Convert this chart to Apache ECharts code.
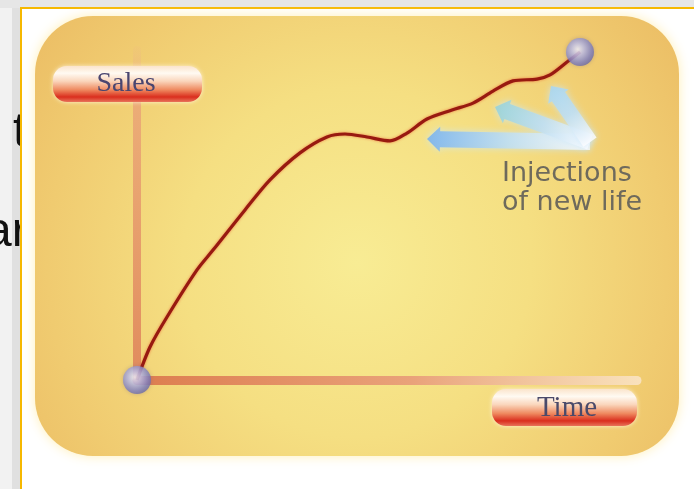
<!DOCTYPE html>
<html>
<head>
<meta charset="utf-8">
<script src="https://cdn.jsdelivr.net/npm/echarts@6/dist/echarts.min.js"></script>
<style>
  html, body { margin: 0; padding: 0; background: #f2f2f2; }
  #chart { width: 694px; height: 489px; }
</style>
</head>
<body>
<div id="chart"></div>
<script>
// Product life cycle: sales over time, lifted by "injections of new life"
const timeValues  = [0, 2.6, 6.0, 12.0, 15.2, 21.6, 26.6, 32.6, 38.0, 41.6, 46.0, 50.6, 54.0, 58.0, 63.0, 67.2, 71.2, 75.2, 80.0, 82.6, 86.0, 88.6];
const salesValues = [0, 11.0, 21.0, 36.7, 43.3, 56.7, 66.7, 75.7, 81.0, 82.0, 81.0, 79.7, 82.3, 87.0, 90.0, 92.3, 96.3, 99.7, 100.3, 101.7, 106.0, 109.3];
const axisNames = { x: 'Time', y: 'Sales' };
const noteText = ['Injections', 'of new life'];
// annotation arrows, in (time, sales) units: common tail and three heads
const arrowFrom = [90.6, 79.3];
const arrowTo = [[58.0, 80.3], [71.6, 91.0], [82.8, 98.0]];
// slide text partly hidden behind the white panel
const slideText = ['t', 'ar'];

const curve = timeValues.map((t, i) => [t, salesValues[i]]);
const ends = [curve[0], curve[curve.length - 1]];

const chart = echarts.init(document.getElementById('chart'), null, { renderer: 'canvas' });

const sphere = {
  type: 'radial', x: 0.42, y: 0.4, r: 0.62,
  colorStops: [
    { offset: 0, color: '#f6f6ff' },
    { offset: 0.35, color: '#c0c2ea' },
    { offset: 0.8, color: '#7f80c0' },
    { offset: 1, color: '#6a6aa8' }
  ]
};

chart.setOption({
  animation: false,
  backgroundColor: 'transparent',
  grid: { left: 137, right: 57, top: 50, bottom: 109 },
  xAxis: {
    type: 'value', min: 0, max: 100,
    axisLine: {
      show: true,
      lineStyle: {
        width: 9,
        color: {
          type: 'linear', x: 0, y: 0, x2: 1, y2: 0,
          colorStops: [
            { offset: 0, color: '#dc7c4e' },
            { offset: 0.55, color: '#e9a27a' },
            { offset: 1, color: 'rgba(250,228,196,0.9)' }
          ]
        }
      }
    },
    axisTick: { show: false }, axisLabel: { show: false }, splitLine: { show: false }
  },
  yAxis: {
    type: 'value', min: 0, max: 110,
    axisLine: {
      show: true,
      lineStyle: {
        width: 8,
        color: {
          type: 'linear', x: 0, y: 0, x2: 0, y2: 1,
          colorStops: [
            { offset: 0, color: 'rgba(238,180,140,0.1)' },
            { offset: 0.15, color: 'rgba(234,164,120,0.8)' },
            { offset: 1, color: '#e08a5c' }
          ]
        }
      }
    },
    axisTick: { show: false }, axisLabel: { show: false }, splitLine: { show: false }
  },
  series: [
    {
      type: 'line',
      data: curve,
      smooth: 0.3,
      clip: false,
      symbol: 'none',
      z: 3,
      lineStyle: {
        width: 3.2,
        color: '#981a10',
        shadowColor: 'rgba(232,84,44,0.7)',
        shadowBlur: 3
      }
    },
    {
      type: 'scatter',
      data: ends,
      clip: false,
      symbolSize: 28,
      z: 4,
      itemStyle: {
        color: sphere,
        shadowColor: 'rgba(90,80,140,0.35)',
        shadowBlur: 4
      }
    }
  ]
});

// annotation arrow as a polygon from tail to head
function arrowShape(b, t, w, hw, hl) {
  const dx = t[0] - b[0], dy = t[1] - b[1];
  const L = Math.hypot(dx, dy);
  const ux = dx / L, uy = dy / L, nx = -uy, ny = ux;
  const hx = t[0] - ux * hl, hy = t[1] - uy * hl;
  return [
    [b[0] + nx * w / 2, b[1] + ny * w / 2],
    [hx + nx * w / 2, hy + ny * w / 2],
    [hx + nx * hw / 2, hy + ny * hw / 2],
    [t[0], t[1]],
    [hx - nx * hw / 2, hy - ny * hw / 2],
    [hx - nx * w / 2, hy - ny * w / 2],
    [b[0] - nx * w / 2, b[1] - ny * w / 2]
  ];
}

const tail = chart.convertToPixel({ gridIndex: 0 }, arrowFrom);
const tints = ['#78b2ee', '#96d2d8', '#a6d6f2'];
const arrows = arrowTo.map((a, i) => {
  const head = chart.convertToPixel({ gridIndex: 0 }, a);
  return {
    type: 'polygon',
    z: -4,
    silent: true,
    shape: { points: arrowShape(tail, head, 16, 25, 13) },
    style: {
      fill: {
        type: 'linear', global: true,
        x: head[0], y: head[1], x2: tail[0], y2: tail[1],
        colorStops: [
          { offset: 0, color: tints[i] },
          { offset: 0.5, color: 'rgba(190,222,242,0.95)' },
          { offset: 1, color: 'rgba(252,252,255,0.95)' }
        ]
      },
      opacity: 0.88,
      shadowBlur: 7,
      shadowColor: 'rgba(200,230,250,0.9)'
    }
  };
});

const pillFill = {
  type: 'linear', x: 0, y: 0, x2: 0, y2: 1,
  colorStops: [
    { offset: 0, color: '#fbe4cc' },
    { offset: 0.2, color: '#fffaf2' },
    { offset: 0.42, color: '#fad6bc' },
    { offset: 0.66, color: '#ef8a60' },
    { offset: 0.86, color: '#da2e1e' },
    { offset: 1, color: '#e8735a' }
  ]
};

const graphics = [
  // slide backdrop
  { type: 'rect', z: -30, silent: true, shape: { x: 12, y: 0, width: 10, height: 489 }, style: { fill: '#e0e0e0' } },
  { type: 'rect', z: -30, silent: true, shape: { x: 0, y: 0, width: 694, height: 8 }, style: { fill: '#e6e6e6' } },
  { type: 'text', z: -25, silent: true, style: { x: 13, y: 133, text: slideText[0], font: '48px "Liberation Sans", Arial, sans-serif', fill: '#111', verticalAlign: 'middle' } },
  { type: 'text', z: -25, silent: true, style: { x: -15, y: 233, text: slideText[1], font: '48px "Liberation Sans", Arial, sans-serif', fill: '#111', verticalAlign: 'middle' } },
  // white picture frame with golden edge
  { type: 'rect', z: -20, silent: true, shape: { x: 21, y: 8, width: 673, height: 481 }, style: { fill: '#ffffff' } },
  { type: 'rect', z: -19, silent: true, shape: { x: 20, y: 7, width: 674, height: 2 }, style: { fill: '#f6b800' } },
  { type: 'rect', z: -19, silent: true, shape: { x: 20, y: 7, width: 2, height: 482 }, style: { fill: '#f6b800' } },
  // rounded yellow panel
  {
    type: 'rect', z: -10, silent: true,
    shape: { x: 35, y: 16, width: 644, height: 440, r: 58 },
    style: {
      fill: {
        type: 'radial', x: 0.5, y: 0.56, r: 0.88,
        colorStops: [
          { offset: 0, color: '#f8ec94' },
          { offset: 0.45, color: '#f5df82' },
          { offset: 0.8, color: '#f0cb70' },
          { offset: 1, color: '#ecbf66' }
        ]
      },
      shadowBlur: 12,
      shadowColor: 'rgba(255,238,176,0.9)'
    }
  },
  ...arrows,
  {
    type: 'text', z: 5, silent: true,
    style: {
      x: 502, y: 188, text: noteText.join('\n'),
      font: '27px "DejaVu Sans", sans-serif', lineHeight: 29,
      fill: '#6e6a5c', verticalAlign: 'middle'
    }
  },
  // axis name pills
  { type: 'rect', z: 6, silent: true, shape: { x: 53, y: 66, width: 149, height: 36, r: 14 }, style: { fill: pillFill, shadowBlur: 4, shadowColor: 'rgba(255,245,220,0.9)' } },
  { type: 'text', z: 7, silent: true, style: { x: 126, y: 84, text: axisNames.y, font: '28px "Liberation Serif", "Times New Roman", serif', fill: '#4a4670', align: 'center', verticalAlign: 'middle' } },
  { type: 'rect', z: 6, silent: true, shape: { x: 492, y: 389, width: 145, height: 37, r: 14 }, style: { fill: pillFill, shadowBlur: 4, shadowColor: 'rgba(255,245,220,0.9)' } },
  { type: 'text', z: 7, silent: true, style: { x: 567, y: 408, text: axisNames.x, font: '29px "Liberation Serif", "Times New Roman", serif', fill: '#4a4a6a', align: 'center', verticalAlign: 'middle' } }
];

chart.setOption({ graphic: { elements: graphics } });
</script>
</body>
</html>
